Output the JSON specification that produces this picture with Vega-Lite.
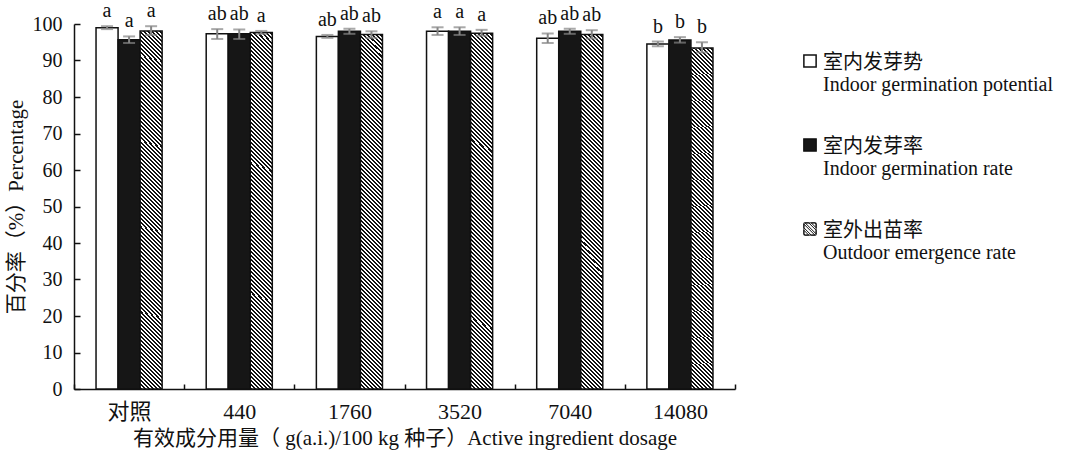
{
  "$schema": "https://vega.github.io/schema/vega-lite/v6.json",
  "width": 661,
  "height": 365,
  "autosize": "none",
  "padding": {"left": 74, "top": 24, "right": 334, "bottom": 68},
  "background": "white",
  "config": {
    "view": {"stroke": null},
    "font": "Liberation Serif, Noto Sans CJK SC",
    "axis": {
      "labelFont": "Liberation Serif, Noto Sans CJK SC",
      "titleFont": "Liberation Serif, Noto Sans CJK SC",
      "labelFontSize": 20,
      "titleFontSize": 21,
      "titleFontWeight": "normal",
      "labelColor": "#111",
      "titleColor": "#111",
      "domainColor": "#111",
      "domainWidth": 1.5,
      "tickColor": "#111",
      "tickWidth": 1.5,
      "grid": false
    },
    "legend": {
      "labelFont": "Liberation Serif, Noto Sans CJK SC",
      "labelFontSize": 20,
      "labelColor": "#111"
    }
  },
  "data": {
    "values": [
      {"group": "对照", "series": "室内发芽势", "value": 99.0, "lo": 98.6, "hi": 99.4, "label": "a"},
      {"group": "对照", "series": "室内发芽率", "value": 95.7, "lo": 94.8, "hi": 96.6, "label": "a"},
      {"group": "对照", "series": "室外出苗率", "value": 98.1, "lo": 97.0, "hi": 99.4, "label": "a"},
      {"group": "440", "series": "室内发芽势", "value": 97.3, "lo": 95.9, "hi": 98.6, "label": "ab"},
      {"group": "440", "series": "室内发芽率", "value": 97.3, "lo": 95.9, "hi": 98.5, "label": "ab"},
      {"group": "440", "series": "室外出苗率", "value": 97.7, "lo": 97.3, "hi": 98.1, "label": "a"},
      {"group": "1760", "series": "室内发芽势", "value": 96.6, "lo": 96.2, "hi": 97.0, "label": "ab"},
      {"group": "1760", "series": "室内发芽率", "value": 98.0, "lo": 97.3, "hi": 98.7, "label": "ab"},
      {"group": "1760", "series": "室外出苗率", "value": 97.1, "lo": 96.2, "hi": 98.0, "label": "ab"},
      {"group": "3520", "series": "室内发芽势", "value": 98.0, "lo": 97.0, "hi": 99.1, "label": "a"},
      {"group": "3520", "series": "室内发芽率", "value": 98.0, "lo": 97.0, "hi": 99.1, "label": "a"},
      {"group": "3520", "series": "室外出苗率", "value": 97.5, "lo": 96.8, "hi": 98.4, "label": "a"},
      {"group": "7040", "series": "室内发芽势", "value": 96.1, "lo": 94.8, "hi": 97.4, "label": "ab"},
      {"group": "7040", "series": "室内发芽率", "value": 98.0, "lo": 97.3, "hi": 98.7, "label": "ab"},
      {"group": "7040", "series": "室外出苗率", "value": 97.1, "lo": 96.0, "hi": 98.3, "label": "ab"},
      {"group": "14080", "series": "室内发芽势", "value": 94.5, "lo": 93.9, "hi": 95.2, "label": "b"},
      {"group": "14080", "series": "室内发芽率", "value": 95.6, "lo": 94.9, "hi": 96.4, "label": "b"},
      {"group": "14080", "series": "室外出苗率", "value": 93.4, "lo": 92.2, "hi": 95.0, "label": "b"}
    ]
  },
  "encoding": {
    "x": {
      "field": "group",
      "type": "nominal",
      "sort": ["对照", "440", "1760", "3520", "7040", "14080"],
      "scale": {"paddingInner": 0, "paddingOuter": 0},
      "axis": {
        "title": "有效成分用量（ g(a.i.)/100 kg 种子）Active ingredient dosage",
        "labelAngle": 0,
        "labelFontSize": 22,
        "tickBand": "extent",
        "tickSize": -5,
        "labelPadding": 17,
        "titlePadding": 5
      }
    },
    "xOffset": {
      "field": "series",
      "type": "nominal",
      "sort": ["室内发芽势", "室内发芽率", "室外出苗率"],
      "scale": {"paddingInner": 0, "paddingOuter": 1}
    }
  },
  "layer": [
    {
      "mark": {"type": "bar", "stroke": "#111", "strokeWidth": 1.5},
      "encoding": {
        "y": {
          "field": "value",
          "type": "quantitative",
          "scale": {"domain": [0, 100], "nice": false},
          "axis": {
            "title": "百分率（%）Percentage",
            "values": [0, 10, 20, 30, 40, 50, 60, 70, 80, 90, 100],
            "labelOverlap": false,
            "tickSize": -6,
            "labelPadding": 18,
            "titlePadding": 6
          }
        },
        "fill": {
          "condition": {
            "test": "datum.series === '室外出苗率'",
            "value": {"gradient": "linear", "x1": 0, "y1": 1, "x2": 0.0699, "y2": -0.126, "stops": [
                {"offset":0,"color":"#111"},{"offset":0.005,"color":"#111"},{"offset":0.005,"color":"#fff"},{"offset":0.01,"color":"#fff"},
                {"offset":0.01,"color":"#111"},{"offset":0.015,"color":"#111"},{"offset":0.015,"color":"#fff"},{"offset":0.02,"color":"#fff"},
                {"offset":0.02,"color":"#111"},{"offset":0.025,"color":"#111"},{"offset":0.025,"color":"#fff"},{"offset":0.03,"color":"#fff"},
                {"offset":0.03,"color":"#111"},{"offset":0.035,"color":"#111"},{"offset":0.035,"color":"#fff"},{"offset":0.04,"color":"#fff"},
                {"offset":0.04,"color":"#111"},{"offset":0.045,"color":"#111"},{"offset":0.045,"color":"#fff"},{"offset":0.05,"color":"#fff"},
                {"offset":0.05,"color":"#111"},{"offset":0.055,"color":"#111"},{"offset":0.055,"color":"#fff"},{"offset":0.06,"color":"#fff"},
                {"offset":0.06,"color":"#111"},{"offset":0.065,"color":"#111"},{"offset":0.065,"color":"#fff"},{"offset":0.07,"color":"#fff"},
                {"offset":0.07,"color":"#111"},{"offset":0.075,"color":"#111"},{"offset":0.075,"color":"#fff"},{"offset":0.08,"color":"#fff"},
                {"offset":0.08,"color":"#111"},{"offset":0.085,"color":"#111"},{"offset":0.085,"color":"#fff"},{"offset":0.09,"color":"#fff"},
                {"offset":0.09,"color":"#111"},{"offset":0.095,"color":"#111"},{"offset":0.095,"color":"#fff"},{"offset":0.1,"color":"#fff"},
                {"offset":0.1,"color":"#111"},{"offset":0.105,"color":"#111"},{"offset":0.105,"color":"#fff"},{"offset":0.11,"color":"#fff"},
                {"offset":0.11,"color":"#111"},{"offset":0.115,"color":"#111"},{"offset":0.115,"color":"#fff"},{"offset":0.12,"color":"#fff"},
                {"offset":0.12,"color":"#111"},{"offset":0.125,"color":"#111"},{"offset":0.125,"color":"#fff"},{"offset":0.13,"color":"#fff"},
                {"offset":0.13,"color":"#111"},{"offset":0.135,"color":"#111"},{"offset":0.135,"color":"#fff"},{"offset":0.14,"color":"#fff"},
                {"offset":0.14,"color":"#111"},{"offset":0.145,"color":"#111"},{"offset":0.145,"color":"#fff"},{"offset":0.15,"color":"#fff"},
                {"offset":0.15,"color":"#111"},{"offset":0.155,"color":"#111"},{"offset":0.155,"color":"#fff"},{"offset":0.16,"color":"#fff"},
                {"offset":0.16,"color":"#111"},{"offset":0.165,"color":"#111"},{"offset":0.165,"color":"#fff"},{"offset":0.17,"color":"#fff"},
                {"offset":0.17,"color":"#111"},{"offset":0.175,"color":"#111"},{"offset":0.175,"color":"#fff"},{"offset":0.18,"color":"#fff"},
                {"offset":0.18,"color":"#111"},{"offset":0.185,"color":"#111"},{"offset":0.185,"color":"#fff"},{"offset":0.19,"color":"#fff"},
                {"offset":0.19,"color":"#111"},{"offset":0.195,"color":"#111"},{"offset":0.195,"color":"#fff"},{"offset":0.2,"color":"#fff"},
                {"offset":0.2,"color":"#111"},{"offset":0.205,"color":"#111"},{"offset":0.205,"color":"#fff"},{"offset":0.21,"color":"#fff"},
                {"offset":0.21,"color":"#111"},{"offset":0.215,"color":"#111"},{"offset":0.215,"color":"#fff"},{"offset":0.22,"color":"#fff"},
                {"offset":0.22,"color":"#111"},{"offset":0.225,"color":"#111"},{"offset":0.225,"color":"#fff"},{"offset":0.23,"color":"#fff"},
                {"offset":0.23,"color":"#111"},{"offset":0.235,"color":"#111"},{"offset":0.235,"color":"#fff"},{"offset":0.24,"color":"#fff"},
                {"offset":0.24,"color":"#111"},{"offset":0.245,"color":"#111"},{"offset":0.245,"color":"#fff"},{"offset":0.25,"color":"#fff"},
                {"offset":0.25,"color":"#111"},{"offset":0.255,"color":"#111"},{"offset":0.255,"color":"#fff"},{"offset":0.26,"color":"#fff"},
                {"offset":0.26,"color":"#111"},{"offset":0.265,"color":"#111"},{"offset":0.265,"color":"#fff"},{"offset":0.27,"color":"#fff"},
                {"offset":0.27,"color":"#111"},{"offset":0.275,"color":"#111"},{"offset":0.275,"color":"#fff"},{"offset":0.28,"color":"#fff"},
                {"offset":0.28,"color":"#111"},{"offset":0.285,"color":"#111"},{"offset":0.285,"color":"#fff"},{"offset":0.29,"color":"#fff"},
                {"offset":0.29,"color":"#111"},{"offset":0.295,"color":"#111"},{"offset":0.295,"color":"#fff"},{"offset":0.3,"color":"#fff"},
                {"offset":0.3,"color":"#111"},{"offset":0.305,"color":"#111"},{"offset":0.305,"color":"#fff"},{"offset":0.31,"color":"#fff"},
                {"offset":0.31,"color":"#111"},{"offset":0.315,"color":"#111"},{"offset":0.315,"color":"#fff"},{"offset":0.32,"color":"#fff"},
                {"offset":0.32,"color":"#111"},{"offset":0.325,"color":"#111"},{"offset":0.325,"color":"#fff"},{"offset":0.33,"color":"#fff"},
                {"offset":0.33,"color":"#111"},{"offset":0.335,"color":"#111"},{"offset":0.335,"color":"#fff"},{"offset":0.34,"color":"#fff"},
                {"offset":0.34,"color":"#111"},{"offset":0.345,"color":"#111"},{"offset":0.345,"color":"#fff"},{"offset":0.35,"color":"#fff"},
                {"offset":0.35,"color":"#111"},{"offset":0.355,"color":"#111"},{"offset":0.355,"color":"#fff"},{"offset":0.36,"color":"#fff"},
                {"offset":0.36,"color":"#111"},{"offset":0.365,"color":"#111"},{"offset":0.365,"color":"#fff"},{"offset":0.37,"color":"#fff"},
                {"offset":0.37,"color":"#111"},{"offset":0.375,"color":"#111"},{"offset":0.375,"color":"#fff"},{"offset":0.38,"color":"#fff"},
                {"offset":0.38,"color":"#111"},{"offset":0.385,"color":"#111"},{"offset":0.385,"color":"#fff"},{"offset":0.39,"color":"#fff"},
                {"offset":0.39,"color":"#111"},{"offset":0.395,"color":"#111"},{"offset":0.395,"color":"#fff"},{"offset":0.4,"color":"#fff"},
                {"offset":0.4,"color":"#111"},{"offset":0.405,"color":"#111"},{"offset":0.405,"color":"#fff"},{"offset":0.41,"color":"#fff"},
                {"offset":0.41,"color":"#111"},{"offset":0.415,"color":"#111"},{"offset":0.415,"color":"#fff"},{"offset":0.42,"color":"#fff"},
                {"offset":0.42,"color":"#111"},{"offset":0.425,"color":"#111"},{"offset":0.425,"color":"#fff"},{"offset":0.43,"color":"#fff"},
                {"offset":0.43,"color":"#111"},{"offset":0.435,"color":"#111"},{"offset":0.435,"color":"#fff"},{"offset":0.44,"color":"#fff"},
                {"offset":0.44,"color":"#111"},{"offset":0.445,"color":"#111"},{"offset":0.445,"color":"#fff"},{"offset":0.45,"color":"#fff"},
                {"offset":0.45,"color":"#111"},{"offset":0.455,"color":"#111"},{"offset":0.455,"color":"#fff"},{"offset":0.46,"color":"#fff"},
                {"offset":0.46,"color":"#111"},{"offset":0.465,"color":"#111"},{"offset":0.465,"color":"#fff"},{"offset":0.47,"color":"#fff"},
                {"offset":0.47,"color":"#111"},{"offset":0.475,"color":"#111"},{"offset":0.475,"color":"#fff"},{"offset":0.48,"color":"#fff"},
                {"offset":0.48,"color":"#111"},{"offset":0.485,"color":"#111"},{"offset":0.485,"color":"#fff"},{"offset":0.49,"color":"#fff"},
                {"offset":0.49,"color":"#111"},{"offset":0.495,"color":"#111"},{"offset":0.495,"color":"#fff"},{"offset":0.5,"color":"#fff"},
                {"offset":0.5,"color":"#111"},{"offset":0.505,"color":"#111"},{"offset":0.505,"color":"#fff"},{"offset":0.51,"color":"#fff"},
                {"offset":0.51,"color":"#111"},{"offset":0.515,"color":"#111"},{"offset":0.515,"color":"#fff"},{"offset":0.52,"color":"#fff"},
                {"offset":0.52,"color":"#111"},{"offset":0.525,"color":"#111"},{"offset":0.525,"color":"#fff"},{"offset":0.53,"color":"#fff"},
                {"offset":0.53,"color":"#111"},{"offset":0.535,"color":"#111"},{"offset":0.535,"color":"#fff"},{"offset":0.54,"color":"#fff"},
                {"offset":0.54,"color":"#111"},{"offset":0.545,"color":"#111"},{"offset":0.545,"color":"#fff"},{"offset":0.55,"color":"#fff"},
                {"offset":0.55,"color":"#111"},{"offset":0.555,"color":"#111"},{"offset":0.555,"color":"#fff"},{"offset":0.56,"color":"#fff"},
                {"offset":0.56,"color":"#111"},{"offset":0.565,"color":"#111"},{"offset":0.565,"color":"#fff"},{"offset":0.57,"color":"#fff"},
                {"offset":0.57,"color":"#111"},{"offset":0.575,"color":"#111"},{"offset":0.575,"color":"#fff"},{"offset":0.58,"color":"#fff"},
                {"offset":0.58,"color":"#111"},{"offset":0.585,"color":"#111"},{"offset":0.585,"color":"#fff"},{"offset":0.59,"color":"#fff"},
                {"offset":0.59,"color":"#111"},{"offset":0.595,"color":"#111"},{"offset":0.595,"color":"#fff"},{"offset":0.6,"color":"#fff"},
                {"offset":0.6,"color":"#111"},{"offset":0.605,"color":"#111"},{"offset":0.605,"color":"#fff"},{"offset":0.61,"color":"#fff"},
                {"offset":0.61,"color":"#111"},{"offset":0.615,"color":"#111"},{"offset":0.615,"color":"#fff"},{"offset":0.62,"color":"#fff"},
                {"offset":0.62,"color":"#111"},{"offset":0.625,"color":"#111"},{"offset":0.625,"color":"#fff"},{"offset":0.63,"color":"#fff"},
                {"offset":0.63,"color":"#111"},{"offset":0.635,"color":"#111"},{"offset":0.635,"color":"#fff"},{"offset":0.64,"color":"#fff"},
                {"offset":0.64,"color":"#111"},{"offset":0.645,"color":"#111"},{"offset":0.645,"color":"#fff"},{"offset":0.65,"color":"#fff"},
                {"offset":0.65,"color":"#111"},{"offset":0.655,"color":"#111"},{"offset":0.655,"color":"#fff"},{"offset":0.66,"color":"#fff"},
                {"offset":0.66,"color":"#111"},{"offset":0.665,"color":"#111"},{"offset":0.665,"color":"#fff"},{"offset":0.67,"color":"#fff"},
                {"offset":0.67,"color":"#111"},{"offset":0.675,"color":"#111"},{"offset":0.675,"color":"#fff"},{"offset":0.68,"color":"#fff"},
                {"offset":0.68,"color":"#111"},{"offset":0.685,"color":"#111"},{"offset":0.685,"color":"#fff"},{"offset":0.69,"color":"#fff"},
                {"offset":0.69,"color":"#111"},{"offset":0.695,"color":"#111"},{"offset":0.695,"color":"#fff"},{"offset":0.7,"color":"#fff"},
                {"offset":0.7,"color":"#111"},{"offset":0.705,"color":"#111"},{"offset":0.705,"color":"#fff"},{"offset":0.71,"color":"#fff"},
                {"offset":0.71,"color":"#111"},{"offset":0.715,"color":"#111"},{"offset":0.715,"color":"#fff"},{"offset":0.72,"color":"#fff"},
                {"offset":0.72,"color":"#111"},{"offset":0.725,"color":"#111"},{"offset":0.725,"color":"#fff"},{"offset":0.73,"color":"#fff"},
                {"offset":0.73,"color":"#111"},{"offset":0.735,"color":"#111"},{"offset":0.735,"color":"#fff"},{"offset":0.74,"color":"#fff"},
                {"offset":0.74,"color":"#111"},{"offset":0.745,"color":"#111"},{"offset":0.745,"color":"#fff"},{"offset":0.75,"color":"#fff"},
                {"offset":0.75,"color":"#111"},{"offset":0.755,"color":"#111"},{"offset":0.755,"color":"#fff"},{"offset":0.76,"color":"#fff"},
                {"offset":0.76,"color":"#111"},{"offset":0.765,"color":"#111"},{"offset":0.765,"color":"#fff"},{"offset":0.77,"color":"#fff"},
                {"offset":0.77,"color":"#111"},{"offset":0.775,"color":"#111"},{"offset":0.775,"color":"#fff"},{"offset":0.78,"color":"#fff"},
                {"offset":0.78,"color":"#111"},{"offset":0.785,"color":"#111"},{"offset":0.785,"color":"#fff"},{"offset":0.79,"color":"#fff"},
                {"offset":0.79,"color":"#111"},{"offset":0.795,"color":"#111"},{"offset":0.795,"color":"#fff"},{"offset":0.8,"color":"#fff"},
                {"offset":0.8,"color":"#111"},{"offset":0.805,"color":"#111"},{"offset":0.805,"color":"#fff"},{"offset":0.81,"color":"#fff"},
                {"offset":0.81,"color":"#111"},{"offset":0.815,"color":"#111"},{"offset":0.815,"color":"#fff"},{"offset":0.82,"color":"#fff"},
                {"offset":0.82,"color":"#111"},{"offset":0.825,"color":"#111"},{"offset":0.825,"color":"#fff"},{"offset":0.83,"color":"#fff"},
                {"offset":0.83,"color":"#111"},{"offset":0.835,"color":"#111"},{"offset":0.835,"color":"#fff"},{"offset":0.84,"color":"#fff"},
                {"offset":0.84,"color":"#111"},{"offset":0.845,"color":"#111"},{"offset":0.845,"color":"#fff"},{"offset":0.85,"color":"#fff"},
                {"offset":0.85,"color":"#111"},{"offset":0.855,"color":"#111"},{"offset":0.855,"color":"#fff"},{"offset":0.86,"color":"#fff"},
                {"offset":0.86,"color":"#111"},{"offset":0.865,"color":"#111"},{"offset":0.865,"color":"#fff"},{"offset":0.87,"color":"#fff"},
                {"offset":0.87,"color":"#111"},{"offset":0.875,"color":"#111"},{"offset":0.875,"color":"#fff"},{"offset":0.88,"color":"#fff"},
                {"offset":0.88,"color":"#111"},{"offset":0.885,"color":"#111"},{"offset":0.885,"color":"#fff"},{"offset":0.89,"color":"#fff"},
                {"offset":0.89,"color":"#111"},{"offset":0.895,"color":"#111"},{"offset":0.895,"color":"#fff"},{"offset":0.9,"color":"#fff"},
                {"offset":0.9,"color":"#111"},{"offset":0.905,"color":"#111"},{"offset":0.905,"color":"#fff"},{"offset":0.91,"color":"#fff"},
                {"offset":0.91,"color":"#111"},{"offset":0.915,"color":"#111"},{"offset":0.915,"color":"#fff"},{"offset":0.92,"color":"#fff"},
                {"offset":0.92,"color":"#111"},{"offset":0.925,"color":"#111"},{"offset":0.925,"color":"#fff"},{"offset":0.93,"color":"#fff"},
                {"offset":0.93,"color":"#111"},{"offset":0.935,"color":"#111"},{"offset":0.935,"color":"#fff"},{"offset":0.94,"color":"#fff"},
                {"offset":0.94,"color":"#111"},{"offset":0.945,"color":"#111"},{"offset":0.945,"color":"#fff"},{"offset":0.95,"color":"#fff"}
              ]}
          },
          "field": "series",
          "type": "nominal",
          "sort": ["室内发芽势", "室内发芽率", "室外出苗率"],
          "scale": {
            "domain": ["室内发芽势", "室内发芽率", "室外出苗率"],
            "range": ["#ffffff", "#161616", "#ffffff"]
          },
          "legend": {
            "title": null,
            "orient": "none",
            "legendX": 726,
            "legendY": 27,
            "padding": 0,
            "symbolType": "square",
            "symbolSize": 150,
            "symbolStrokeColor": "#111",
            "symbolStrokeWidth": 1.5,
            "labelLimit": 0,
            "labelOffset": 3,
            "labelBaseline": "top",
            "labelLineHeight": 27,
            "rowPadding": 40,
            "labelExpr": "datum.value == '室内发芽势' ? ['室内发芽势', 'Indoor germination potential'] : datum.value == '室内发芽率' ? ['室内发芽率', 'Indoor germination rate'] : ['室外出苗率', 'Outdoor emergence rate']",
            "encode": {
              "labels": {
                "update": {
                  "dy": {"value": -8}
                }
              },
              "symbols": {
                "update": {
                  "stroke": {"value": "#111"},
                  "strokeWidth": {"signal": "datum.value === '室外出苗率' ? 1 : 1.5"},
                  "shape": {"signal": "datum.value === '室外出苗率' ? 'M-1,-1H1V1H-1Z M-1,0.2L-1,0.8L-0.8,1L-0.2,1Z M-1,-0.8L-1,-0.2L0.2,1L0.8,1Z M-0.2,-1L-0.8,-1L1,0.8L1,0.2Z M0.8,-1L0.2,-1L1,-0.2L1,-0.8Z' : 'square'"},
                  "fill": {"signal": "datum.value === '室外出苗率' ? '#111' : datum.value === '室内发芽率' ? '#161616' : '#ffffff'"}
                }
              }
            }
          }
        }
      }
    },
    {
      "mark": {"type": "rule", "color": "#858585", "strokeWidth": 2},
      "encoding": {
        "y": {
          "field": "lo",
          "type": "quantitative",
          "axis": {
            "title": "百分率（%）Percentage",
            "values": [0, 10, 20, 30, 40, 50, 60, 70, 80, 90, 100],
            "labelOverlap": false,
            "tickSize": -6,
            "labelPadding": 18,
            "titlePadding": 6
          }
        },
        "y2": {"field": "hi"}
      }
    },
    {
      "mark": {"type": "tick", "color": "#858585", "thickness": 2, "size": 12, "orient": "horizontal"},
      "encoding": {
        "y": {
          "field": "lo",
          "type": "quantitative",
          "axis": {
            "title": "百分率（%）Percentage",
            "values": [0, 10, 20, 30, 40, 50, 60, 70, 80, 90, 100],
            "labelOverlap": false,
            "tickSize": -6,
            "labelPadding": 18,
            "titlePadding": 6
          }
        }
      }
    },
    {
      "mark": {"type": "tick", "color": "#858585", "thickness": 2, "size": 12, "orient": "horizontal"},
      "encoding": {
        "y": {
          "field": "hi",
          "type": "quantitative",
          "axis": {
            "title": "百分率（%）Percentage",
            "values": [0, 10, 20, 30, 40, 50, 60, 70, 80, 90, 100],
            "labelOverlap": false,
            "tickSize": -6,
            "labelPadding": 18,
            "titlePadding": 6
          }
        }
      }
    },
    {
      "mark": {"type": "text", "fontSize": 20, "font": "Liberation Serif", "color": "#111", "baseline": "alphabetic", "dy": -9},
      "encoding": {
        "y": {
          "field": "hi",
          "type": "quantitative",
          "axis": {
            "title": "百分率（%）Percentage",
            "values": [0, 10, 20, 30, 40, 50, 60, 70, 80, 90, 100],
            "labelOverlap": false,
            "tickSize": -6,
            "labelPadding": 18,
            "titlePadding": 6
          }
        },
        "text": {"field": "label"}
      }
    }
  ]
}
